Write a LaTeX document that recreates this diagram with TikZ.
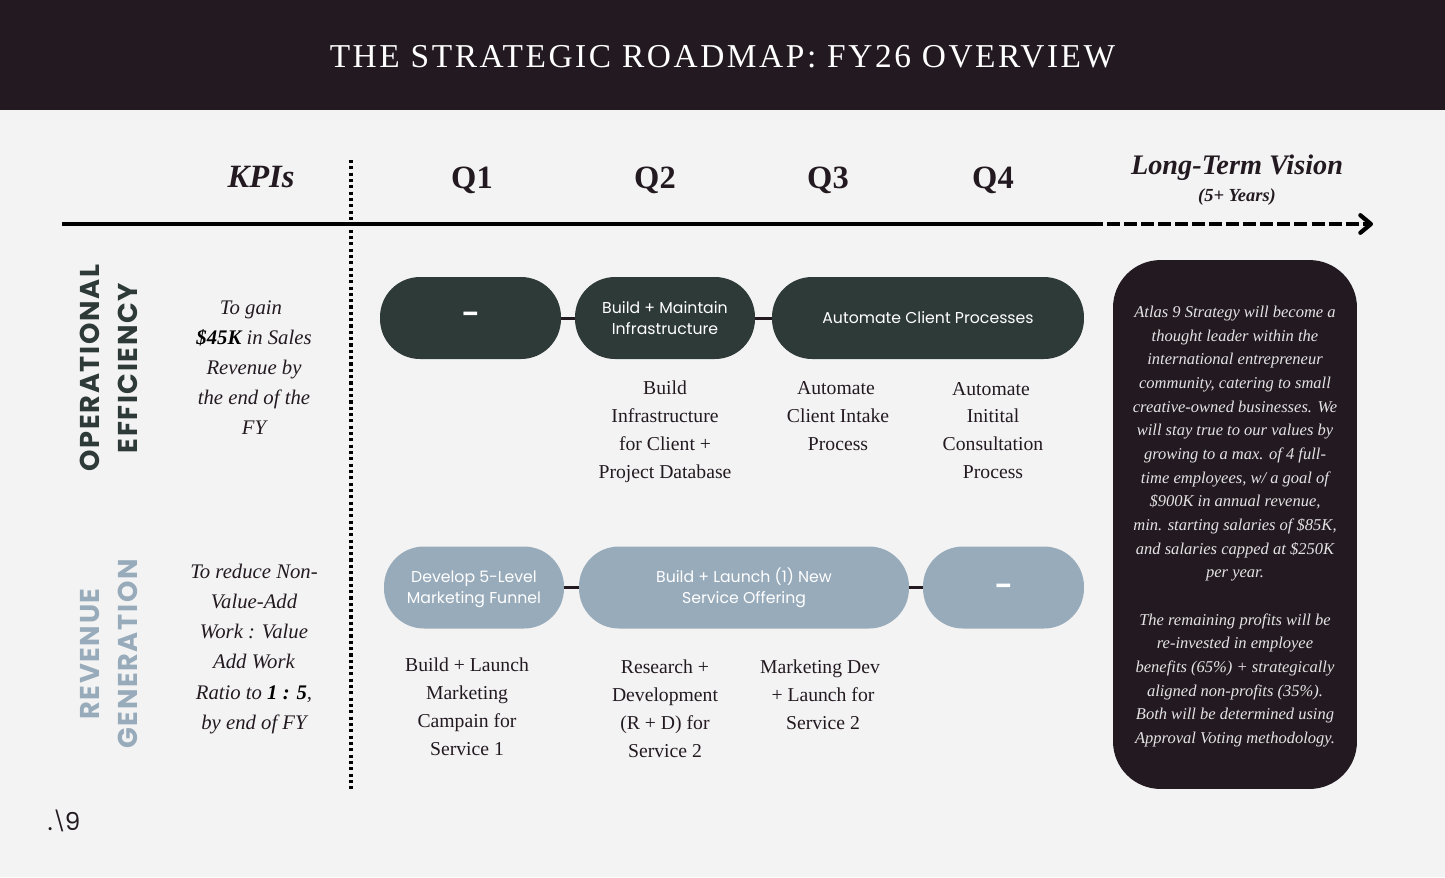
\documentclass[tikz,border=0pt]{standalone}
\usepackage{fontspec}
\usepackage{xcolor}
\usetikzlibrary{backgrounds,calc,positioning,arrows.meta}
\setmainfont{Liberation Serif}
\newfontfamily\titlefont[LetterSpace=7.7]{Liberation Serif}
\newfontfamily\sidefont[LetterSpace=6]{Poppins}
\newfontfamily\pillfont{Poppins}
\definecolor{inkdark}{HTML}{231A21}
\definecolor{pinegreen}{HTML}{2E3A38}
\definecolor{steelblue}{HTML}{98ABBB}
\definecolor{paper}{HTML}{F3F3F3}
\begin{document}
\begin{tikzpicture}[x=0.02cm,y=-0.02cm]

\tikzstyle{darkpill} = [fill=pinegreen, text=white, rectangle, rounded corners=0.8cm, minimum height=1.64cm, inner sep=0pt, align=center, font=\pillfont\fontsize{8.95}{12}\selectfont]
\tikzstyle{bluepill} = [darkpill, fill=steelblue]
\tikzstyle{linkline} = [inkdark, line width=1.7pt]
\tikzstyle{quarter} = [inkdark, font=\bfseries\fontsize{18.5}{22}\selectfont]
\tikzstyle{kpitext} = [inkdark, align=center, font=\itshape\fontsize{11.8}{17.1}\selectfont]
\tikzstyle{steptext} = [inkdark, align=center, font=\fontsize{11.2}{15.9}\selectfont]
\tikzstyle{sidelabel} = [rotate=90, align=center, font=\sidefont\bfseries\fontsize{15.5}{21.6}\selectfont]

\useasboundingbox (0,0) rectangle (1445,877);
\fill [paper] (0,0) rectangle (1445,877);
\fill [inkdark] (0,0) rectangle (1445,110);

\node (title) [white, font=\titlefont\fontsize{19}{24}\selectfont] at (722.5,56.5) {THE STRATEGIC ROADMAP: FY26 OVERVIEW};

% column heads
\node (kpis) [quarter, font=\bfseries\itshape\fontsize{18.5}{22}\selectfont] at (261,177) {KPIs};
\node (q1) [quarter] at (472,180) {Q1};
\node (q2) [quarter] at (655,180) {Q2};
\node (q3) [quarter] at (828,180) {Q3};
\node (q4) [quarter] at (993,180) {Q4};
\node (vision) [inkdark, font=\bfseries\itshape\fontsize{16.1}{20}\selectfont] at (1237,168) {Long-Term Vision};
\node (years) [inkdark, font=\bfseries\itshape\fontsize{10.5}{12}\selectfont] at (1237,197) {(5+ Years)};

% timeline
\coordinate (axisstart) at (62,224);
\coordinate (axismid) at (1103,224);
\coordinate (axisend) at (1373,224);
\coordinate (dividertop) at (351,160);
\coordinate (dividerbot) at (351,790);
\draw [black, line width=2.4pt] (axisstart) -- (axismid);
\draw [black, line width=2.4pt, dash pattern=on 7.4pt off 2.3pt, -{Straight Barb[length=6pt,width=10pt,round]}] (axismid) ++(4,0) -- (axisend);
\draw [black, line width=1.8pt, dash pattern=on 1.8pt off 1.8pt] (dividertop) -- (dividerbot);

% row labels
\node (oplabel) [sidelabel, pinegreen] at (109,368) {OPERATIONAL\\EFFICIENCY};
\node (revlabel) [sidelabel, steelblue] at (109,654) {REVENUE\\GENERATION};

\node (kpi1) [kpitext] at (254,368) {To gain\hspace*{3.4pt}\\\textcolor{black}{\textbf{\$45K}} in Sales\\Revenue by\\the end of the\\FY};
\node (kpi2) [kpitext] at (254,649) {To reduce Non-\\Value-Add\\Work : Value\\Add Work\\Ratio to \textcolor{black}{\textbf{1 : 5}},\\by end of FY};

% top row
\node (op1) [darkpill, minimum width=3.62cm, font=\pillfont\bfseries\fontsize{14}{14}\selectfont] at (470.5,318) {\smash{\raisebox{-2.5pt}{\textendash}}};
\node (op2) [darkpill, minimum width=3.6cm] at (665,318) {Build + Maintain\\Infrastructure};
\node (op3) [darkpill, minimum width=6.24cm] at (928,318) {Automate Client Processes};
\draw [linkline] (op1) -- (op2);
\draw [linkline] (op2) -- (op3);

\node (step1) [steptext] at (665,432) {Build\\Infrastructure\hspace*{3.4pt}\\for Client +\hspace*{1.5pt}\\Project Database};
\node (step2) [steptext] at (838,416) {Automate\hspace*{2.3pt}\\Client Intake\\Process};
\node (step3) [steptext] at (993,430.5) {Automate\hspace*{2.3pt}\\Initital\\Consultation\\Process};

% bottom row
\node (rev1) [bluepill, minimum width=3.6cm] at (474,587.5) {\rule{0pt}{8.8pt}Develop 5-Level\\Marketing Funnel};
\node (rev2) [bluepill, minimum width=6.6cm] at (744,587.5) {Build + Launch (1) New\\Service Offering};
\node (rev3) [bluepill, minimum width=3.22cm, font=\pillfont\bfseries\fontsize{14}{14}\selectfont] at (1003.5,587.5) {\smash{\raisebox{-4pt}{\textendash}}};
\draw [linkline] (rev1) -- (rev2);
\draw [linkline] (rev2) -- (rev3);

\node (step4) [steptext] at (467,706.5) {Build + Launch\\Marketing\\Campain for\\Service 1};
\node (step5) [steptext] at (665,708.5) {Research +\\Development\hspace*{4pt}\\(R + D) for\hspace*{3.4pt}\\Service 2};
\node (step6) [steptext] at (823,694.5) {Marketing Dev\hspace*{3.4pt}\\+ Launch for\\Service 2};

% vision panel
\node (visionbox) [fill=inkdark, text=white!88!inkdark, rectangle, rounded corners=0.95cm, minimum width=4.88cm, minimum height=10.58cm, inner sep=0pt, align=center, font=\itshape\fontsize{9.4}{13.47}\selectfont] at (1235,524.5) {\rule{0pt}{9pt}Atlas 9 Strategy will become a\\thought leader within the\\international entrepreneur\\community, catering to small\\creative-owned businesses. We\\will stay true to our values by\\growing to a max. of 4 full-\\time employees, w/ a goal of\\\$900K in annual revenue,\\min. starting salaries of \$85K,\\and salaries capped at \$250K\\per year.\\[13.47pt]The remaining profits will be\\re-invested in employee\\benefits (65\%) + strategically\\aligned non-profits (35\%).\\Both will be determined using\\Approval Voting methodology.};

\node (logo) [inkdark, font=\pillfont\fontsize{14}{20}\selectfont] at (64,821) {.\raisebox{1pt}{\scalebox{0.8}{\textbackslash}}\kern-0.5pt 9};

\end{tikzpicture}
\end{document}
